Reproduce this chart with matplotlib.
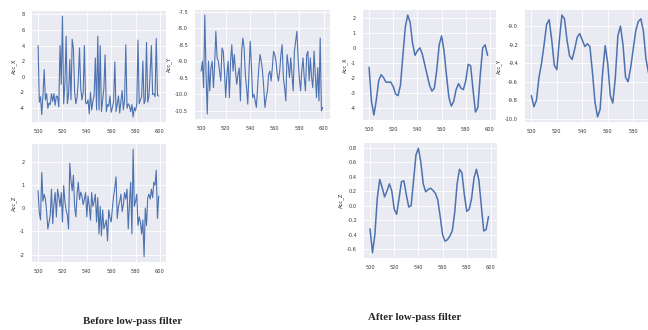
import numpy as np
import matplotlib
matplotlib.use("Agg")
import matplotlib.pyplot as plt
import seaborn as sns

# sample index on the x axis
idx_raw = np.arange(500, 600)
idx_filt = np.arange(500, 600, 2)

# raw accelerometer readings (before filter)
acc_x_raw = [4.0, -3.3, -2.6, -4.9, -2.4, 0.9, -3.0, -2.2, -4.1, -3.4,
             -3.6, -2.2, -3.2, -2.2, -3.7, -2.5, -2.6, -3.9, 4.0, -1.0,
             7.8, -3.5, -1.0, 5.2, -3.5, -2.4, 2.2, -3.0, 4.8, 3.6,
             -2.0, -3.5, -2.7, -0.5, 3.7, -1.5, -3.0, -2.0, 4.0, -3.4,
             -3.5, -3.0, -4.8, -2.0, -4.3, -3.2, -2.4, 2.4, -4.3, 5.2,
             -4.3, 4.0, -4.5, -3.0, -1.5, 2.8, -4.5, -3.6, -3.8, -2.5,
             -4.6, -4.0, -3.2, 1.9, -4.5, -3.5, -2.5, -4.7, -3.2, -1.8,
             -4.3, -3.0, 4.1, -4.1, -3.5, -3.8, -4.5, -3.6, -5.2, -4.0,
             -4.4, -3.6, 4.7, -3.5, -3.0, -2.6, 2.0, -3.5, -3.0, 4.4,
             -3.3, -2.5, 0.5, 4.0, -2.3, -2.2, -2.6, 4.9, -2.4, -2.5]

acc_y_raw = [-9.3, -9.0, -9.8, -7.6, -9.4, -10.6, -9.0, -9.9, -9.2, -9.0,
             -9.8, -9.1, -8.1, -8.9, -9.0, -9.3, -9.6, -8.6, -8.7, -9.3,
             -10.1, -9.4, -9.0, -10.1, -9.0, -8.5, -9.3, -8.8, -9.3, -9.7,
             -9.4, -9.2, -10.2, -8.7, -8.3, -8.6, -9.4, -9.8, -10.3, -9.3,
             -8.4, -9.2, -10.1, -10.0, -10.2, -10.4, -9.8, -9.2, -8.8, -9.0,
             -9.3, -9.8, -10.4, -10.1, -9.9, -9.4, -9.3, -9.6, -9.2, -8.7,
             -8.8, -9.0, -9.4, -9.6, -9.3, -8.8, -8.5, -9.5, -9.8, -10.2,
             -8.8, -9.1, -9.5, -8.9, -9.4, -9.9, -8.7, -8.4, -8.1, -8.9,
             -9.5, -9.9, -9.3, -8.9, -9.5, -9.9, -8.8, -8.7, -9.6, -8.9,
             -9.5, -9.8, -8.7, -9.4, -10.1, -9.2, -10.2, -8.3, -10.5, -10.4]

acc_z_raw = [0.76, -0.2, -0.5, 1.55, 0.31, 0.6, 0.4, -0.14, -0.89, -0.6,
             -0.29, 0.83, -0.66, 0.2, 0.68, -0.37, 0.83, 0.5, 0.08, 0.68,
             -0.59, 0.98, 0.3, -0.07, -0.29, -0.89, 1.95, 1.2, 0.76, 1.43,
             0.08, -0.37, 0.6, 1.13, 0.38, 0.7, 0.53, 0.16, 0.4, 0.68,
             -0.37, 0.53, 0.1, -0.51, 0.68, 0.08, 0.3, 0.61, -0.59, 0.46,
             -1.11, 0.08, -1.19, -0.07, -0.89, -0.7, -0.51, -1.41, -0.07, -0.4,
             -0.59, 0.01, 0.53, 0.9, 1.36, -0.44, 0.08, 0.3, 0.61, -0.14,
             0.16, 0.68, 0.4, 0.83, -0.89, 0.2, 1.13, -1.11, 2.55, 0.08,
             0.3, 0.61, -0.74, -0.37, -0.6, -1.11, -0.5, -2.09, 0.01, -0.74,
             0.46, 0.61, 0.4, 0.83, 0.46, 1.13, 1.0, 1.65, -0.44, 0.53]

# low-pass filtered readings (read every second sample)
acc_x_filt = [-1.3, -3.6, -4.5, -3.5, -2.2, -1.8, -2.0, -2.3, -2.3, -2.3,
              -2.6, -3.1, -3.2, -2.5, -0.5, 1.4, 2.2, 1.7, 0.3, -0.5,
              -0.2, 0.0, -0.4, -1.1, -1.8, -2.5, -2.9, -2.7, -1.5, 0.2,
              0.8, -0.2, -1.8, -3.3, -3.9, -3.6, -2.8, -2.4, -2.7, -2.8,
              -2.2, -1.1, -1.2, -2.8, -4.3, -4.0, -1.8, 0.0, 0.2, -0.5]

acc_y_filt = [-9.75, -9.87, -9.8, -9.55, -9.4, -9.2, -8.98, -8.93, -9.15, -9.42,
              -9.47, -9.15, -8.88, -8.92, -9.15, -9.32, -9.36, -9.25, -9.12, -9.08,
              -9.15, -9.22, -9.19, -9.22, -9.5, -9.82, -9.98, -9.9, -9.5, -9.21,
              -9.4, -9.75, -9.83, -9.55, -9.1, -9.0, -9.2, -9.55, -9.6, -9.45,
              -9.25, -9.05, -8.95, -8.92, -9.05, -9.35, -9.5, -9.45, -9.3, -9.25]

acc_z_filt = [-0.32, -0.65, -0.4, 0.1, 0.36, 0.25, 0.12, 0.2, 0.3, 0.2,
              -0.05, -0.12, 0.1, 0.33, 0.34, 0.15, -0.02, 0.0, 0.35, 0.7,
              0.79, 0.6, 0.3, 0.19, 0.22, 0.24, 0.21, 0.17, 0.08, -0.15,
              -0.4, -0.49, -0.47, -0.42, -0.35, -0.1, 0.3, 0.5, 0.45, 0.15,
              -0.08, -0.05, 0.1, 0.38, 0.5, 0.35, 0.0, -0.35, -0.33, -0.15]

sns.set_style("darkgrid")
plt.rcParams["axes.unicode_minus"] = False
W, H = 648, 330
fig = plt.figure(figsize=(W / 100, H / 100), dpi=100)

blue = "#4C72B0"


def panel(left, top, right, bottom, x, y, label, yticks, lw, xticks=(500, 520, 540, 560, 580, 600)):
    ax = fig.add_axes([left / W, 1 - bottom / H, (right - left) / W, (bottom - top) / H])
    ax.plot(x, y, color=blue, lw=lw)
    ax.set_xticks(list(xticks))
    ax.set_yticks(yticks)
    ax.set_xlim(495, 605)
    ax.tick_params(labelsize=3.6, pad=1.5, colors="#333333")
    ax.set_ylabel(label, fontsize=3.8, labelpad=2)
    for s in ax.spines.values():
        s.set_visible(False)
    ax.grid(color="white", lw=0.6)
    return ax


# before filter
panel(32, 11, 166, 122, idx_raw, acc_x_raw, "Acc_X", [-4, -2, 0, 2, 4, 6, 8], 0.8)
a = panel(195, 10, 330, 119, idx_raw, acc_y_raw, "Acc_Y", [-7.5, -8.0, -8.5, -9.0, -9.5, -10.0, -10.5], 0.8)
a.set_yticklabels(["-7.5", "-8.0", "-8.5", "-9.0", "-9.5", "-10.0", "-10.5"])
panel(32, 144, 166, 262, idx_raw, acc_z_raw, "Acc_Z", [-2, -1, 0, 1, 2], 0.8)

# after filter (right-hand panel runs past the picture edge, as in the source image)
panel(363, 10, 496, 120, idx_filt, acc_x_filt, "Acc_X", [-4, -3, -2, -1, 0, 1, 2], 1.1)
a = panel(525, 10, 665, 122, idx_filt, acc_y_filt, "Acc_Y", [-10.0, -9.8, -9.6, -9.4, -9.2, -9.0], 1.1,
          xticks=(500, 520, 540, 560, 580))
a.set_yticklabels(["-10.0", "-9.8", "-9.6", "-9.4", "-9.2", "-9.0"])
a = panel(364, 143, 497, 258, idx_filt, acc_z_filt, "Acc_Z", [-0.6, -0.4, -0.2, 0.0, 0.2, 0.4, 0.6, 0.8], 1.1)
a.set_yticklabels(["-0.6", "-0.4", "-0.2", "0.0", "0.2", "0.4", "0.6", "0.8"])

fig.text(133 / W, 1 - 322 / H, "Before low-pass filter", ha="center", va="center",
         fontsize=7.8, fontweight="bold", family="Liberation Serif")
fig.text(415 / W, 1 - 317 / H, "After low-pass filter", ha="center", va="center",
         fontsize=7.8, fontweight="bold", family="Liberation Serif")

fig.savefig("out.png", dpi=100)
